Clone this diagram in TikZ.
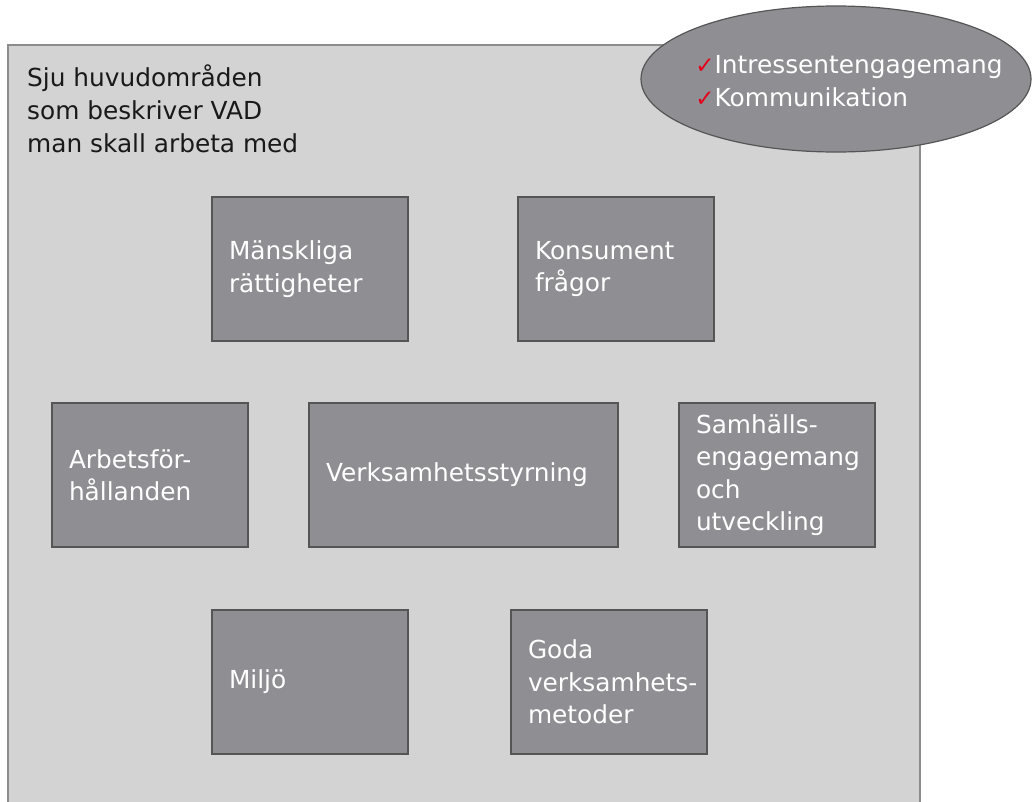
\documentclass[tikz,border=0pt]{standalone}
\usepackage{fontspec}
\setmainfont{DejaVu Sans}
\usepackage{tikz}
\usetikzlibrary{shapes.geometric}
\definecolor{areagray}{HTML}{D3D3D3}
\definecolor{framegray}{HTML}{8C8C8C}
\definecolor{boxgray}{HTML}{8F8E93}
\definecolor{edgegray}{HTML}{555555}
\definecolor{checkred}{HTML}{E2001A}
\newcommand{\topicfont}{\fontsize{24.8}{32.5}\selectfont\exhyphenpenalty=10000\relax\hbadness=10000\relax\hfuzz=20pt\relax}
\newcommand{\tick}{\textcolor{checkred}{\fontsize{23}{20}\selectfont ✓}}

\begin{document}
\begin{tikzpicture}[x=1pt, y=-1pt,
		area/.style={draw=framegray, fill=areagray, line width=1.2pt, rectangle, anchor=north west, inner sep=0pt, outer sep=0pt},
		topic/.style={draw=edgegray, fill=boxgray, line width=1.2pt, rectangle, anchor=north west, outer sep=0pt,
			minimum width=196pt, minimum height=144pt, inner xsep=17pt, text width=162pt, align=left,
			text=white, font=\topicfont},
		bodytext/.style={font=\fontsize{24.8}{33}\selectfont}]
		\useasboundingbox (0,0) rectangle (1033,801);
		\clip (0,0) rectangle (1033,801);
		
		% Area
		\node[area, minimum width=912pt, minimum height=790pt] (area) at (8,45) {};
		\node[bodytext, anchor=north west, align=left, inner sep=0pt, text=black!90] (heading) at (27,65)
			{Sju huvudområden\\som beskriver VAD\\man skall arbeta med};
		
		% Engagement
		\node[ellipse, draw=edgegray, fill=boxgray, line width=1.2pt, minimum width=390pt, minimum height=146pt, inner sep=0pt] (engage) at (836,79) {};
		\node[bodytext, align=left, text=white, inner sep=0pt] (engagetext) at (849,81)
			{\tick Intressentengagemang\\\tick Kommunikation};
		
		% Core subjects
		\node[topic] (rights) at (212,197) {Mänskliga\\rättigheter};
		\node[topic] (consumer) at (518,197) {Konsument\\frågor};
		\node[topic] (labour) at (52,403) {Arbetsför-\\hållanden};
		\node[topic, minimum width=309pt, text width=275pt] (governance) at (309,403) {Verksamhetsstyrning};
		\node[topic] (community) at (679,403) {Samhälls-\\engagemang\\och\\utveckling};
		\node[topic] (environment) at (212,610) {Miljö};
		\node[topic] (practices) at (511,610) {Goda\\verksamhets-\\metoder};
	\end{tikzpicture}
\end{document}
